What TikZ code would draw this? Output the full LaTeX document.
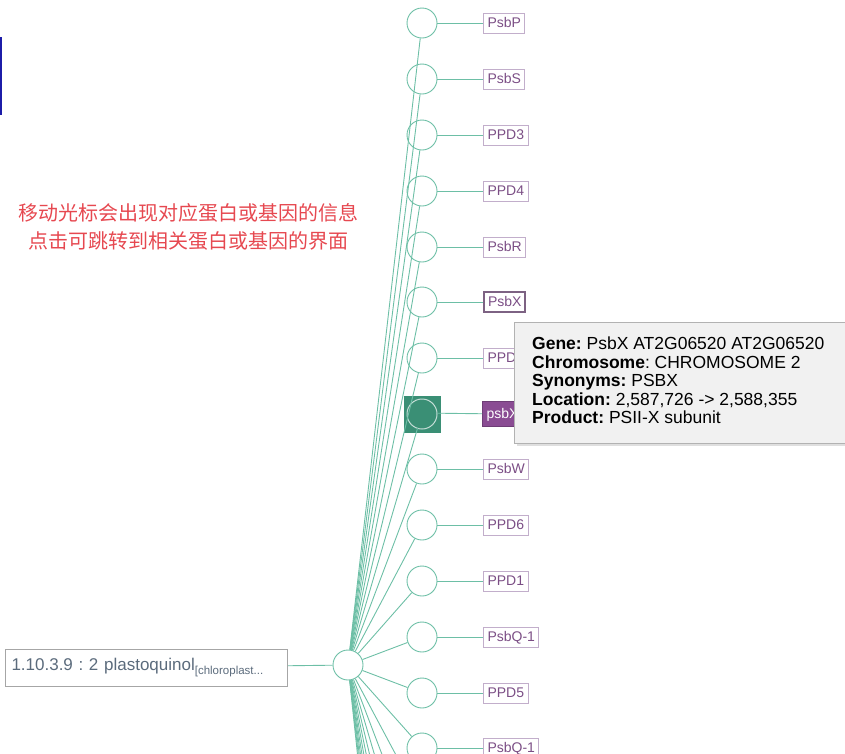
\documentclass[tikz,border=0pt]{standalone}
\usepackage{fontspec}
\setmainfont{Liberation Sans}
\newfontfamily\cjk{Noto Sans CJK SC}
\usetikzlibrary{shadows}
\frenchspacing
\definecolor{linkc}{HTML}{6DBFA6}
\definecolor{labc}{HTML}{7B4E85}
\definecolor{labborder}{HTML}{C2AECB}
\definecolor{hlgreen}{HTML}{3A8F75}
\definecolor{hlpurple}{HTML}{8A4C93}
\definecolor{ectext}{HTML}{5B6B7C}
\definecolor{tipfill}{HTML}{F1F1F1}
\definecolor{redtext}{HTML}{E64850}
\definecolor{navy}{HTML}{1C1CA8}
\tikzset{
  link/.style={draw=linkc, line width=0.9pt},
  leaf/.style={circle, draw=linkc, line width=0.9pt, minimum size=30pt, inner sep=0pt},
  lab/.style={draw=labborder, line width=1pt, text=labc, font=\fontsize{14}{16}\selectfont,
              inner xsep=4pt, minimum height=20pt, anchor=west, text height=9pt, text depth=0.5pt},
}
\begin{document}
\begin{tikzpicture}[x=1pt,y=-1pt]
\useasboundingbox (0,0) rectangle (845,753);
\clip (0,0) rectangle (845,753);
% left blue marker
\draw[navy, line width=2pt] (0.5,37) -- coordinate (bm) (0.5,115);
% root
\node[leaf] (root) at (348,665) {};
% visible children
\foreach \y [count=\i] in {23,79,135,191,247,302,358,413,469,525,581,637,693,748}
  \node[leaf] (c\i) at (422,\y) {};
% children below the view
\foreach \k in {1,...,11}
  \node[leaf] (d\k) at (422,{748+55.8*\k}) {};
% highlight square behind node 8
\node[fill=hlgreen, minimum size=37pt, inner sep=0pt] (hl) at (422,414.5) {};
\node[circle, draw=hlgreen!30!white, line width=1pt, minimum size=30pt, inner sep=0pt] (c8b) at (422,414) {};
% links from root
\foreach \i in {1,...,14} \draw[link] (root) -- (c\i);
\foreach \k in {1,...,11} \draw[link] (root) -- (d\k);
% labels
\node[lab] (l1) at (483,23) {PsbP};
\node[lab] (l2) at (483,79) {PsbS};
\node[lab] (l3) at (483,135) {PPD3};
\node[lab] (l4) at (483,191) {PPD4};
\node[lab] (l5) at (483,247) {PsbR};
\node[lab, draw=labc!60!gray, line width=2pt] (l6) at (483,302) {PsbX};
\node[lab, minimum width=45pt, align=left] (l7) at (483,358) {PPD\hspace{10pt}};
\node[lab, draw=hlpurple!80!black, fill=hlpurple, text=white, minimum height=25pt] (l8) at (482,414) {psbX};
\node[lab] (l9) at (483,469) {PsbW};
\node[lab] (l10) at (483,525) {PPD6};
\node[lab] (l11) at (483,581) {PPD1};
\node[lab] (l12) at (483,637) {PsbQ-1};
\node[lab] (l13) at (483,693) {PPD5};
\node[lab] (l14) at (483,748) {PsbQ-1};
\foreach \i in {1,...,14} \draw[link] (c\i) -- (l\i);
% left enzyme box
\node[draw=gray!70, line width=1pt, anchor=west, minimum width=282pt, minimum height=37pt,
      text width=270pt, inner xsep=6pt, align=left, text=ectext, font=\fontsize{17}{19}\selectfont]
  (ec) at (5,667.5) {1.10.3.9 : 2 plastoquinol\raisebox{-4pt}{\fontsize{11.5}{12}\selectfont[chloroplast...}};
\draw[link] (ec) -- (root);
% red annotation
\node[text=redtext, align=center, font=\cjk\fontsize{20}{28}\selectfont] (note) at (188,227)
  {移动光标会出现对应蛋白或基因的信息\\点击可跳转到相关蛋白或基因的界面};
% tooltip
\node[draw=gray!60, fill=tipfill, line width=1pt, drop shadow={opacity=0.25, shadow xshift=2pt, shadow yshift=-2pt},
      anchor=north west, minimum width=331pt, minimum height=121pt, inner sep=0pt] (tip) at (514,322) {};
\node[anchor=north west, align=left, font=\fontsize{17.5}{18.5}\selectfont, inner sep=0pt] (tiptext) at (532,337)
  {\textbf{Gene:} PsbX AT2G06520 AT2G06520\\
   \textbf{Chromosome}: CHROMOSOME 2\\
   \textbf{Synonyms:} PSBX\\
   \textbf{Location:} 2,587,726 -> 2,588,355\\
   \textbf{Product:} PSII-X subunit};
\end{tikzpicture}
\end{document}
